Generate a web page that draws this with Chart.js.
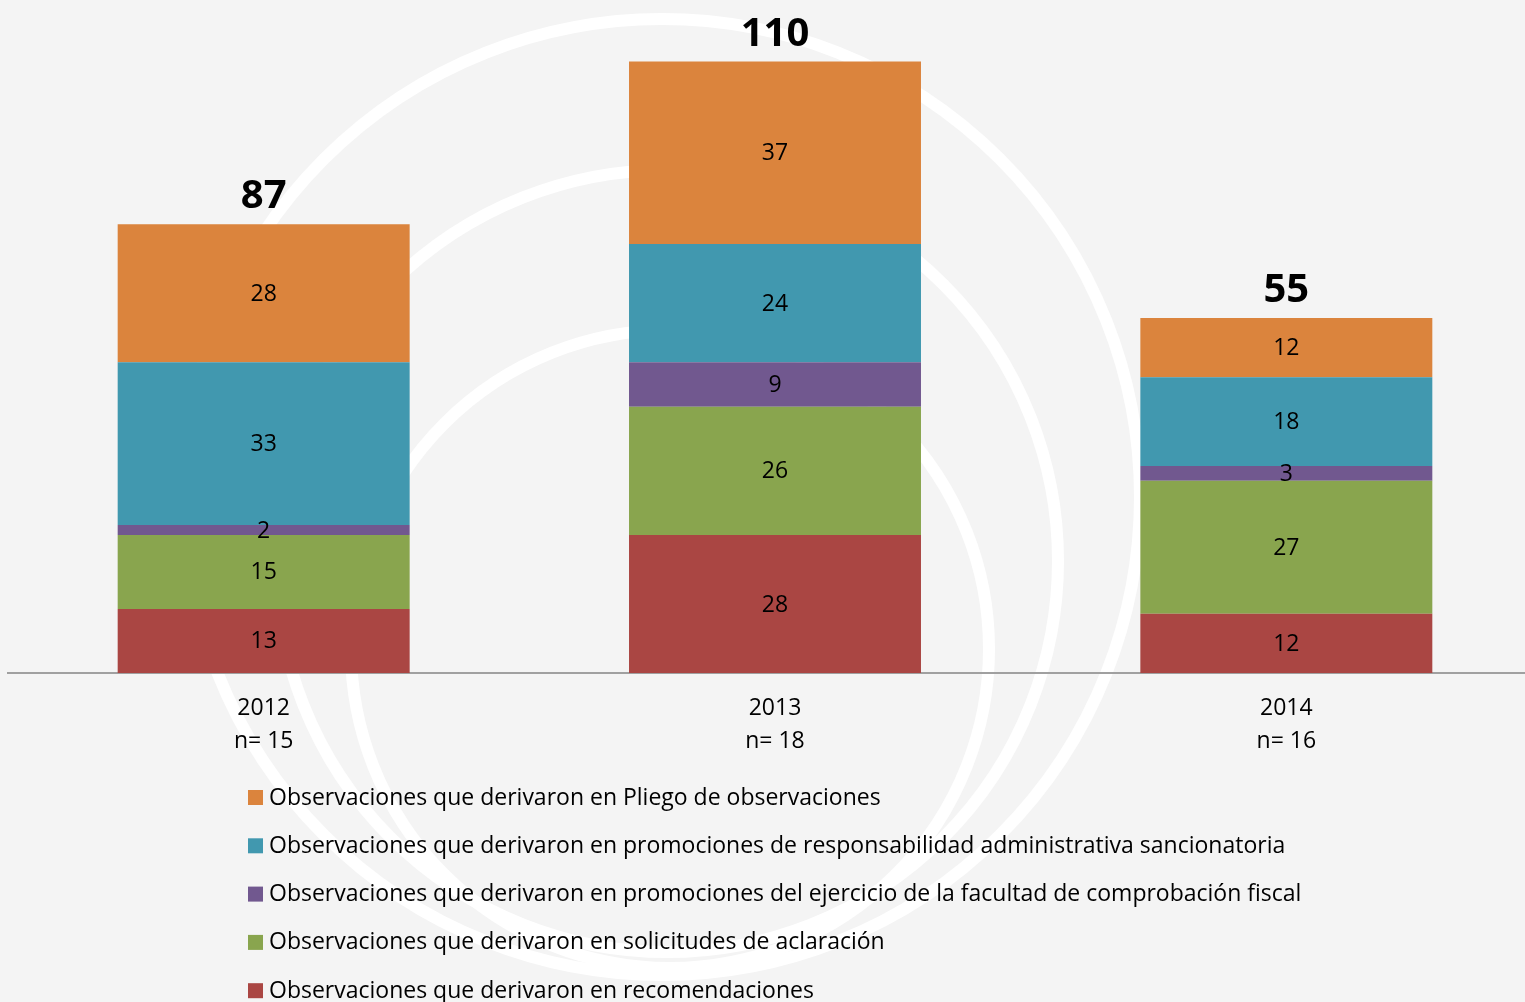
<!DOCTYPE html>
<html lang="es">
<head>
    <meta charset="UTF-8">
    <title>Observaciones por año</title>
    <script src="https://cdn.jsdelivr.net/npm/chart.js"></script>
    <style>
        body {
            margin: 0;
            padding: 0;
            background-color: #f4f4f4;
            overflow: hidden;
        }

        .chart-container {
            position: absolute;
            left: 0;
            top: 0;
            width: 1542px;
            height: 1002px;
        }
    </style>
</head>
<body>

    <div class="chart-container">
        <canvas id="obsChart"></canvas>
    </div>

    <script>
        // Datos
        const years = ['2012', '2013', '2014'];
        const nValues = [15, 18, 16];
        const totals = [87, 110, 55];

        const recomendaciones = [13, 28, 12];
        const solicitudes = [15, 26, 27];
        const comprobacionFiscal = [2, 9, 3];
        const responsabilidad = [33, 24, 18];
        const pliego = [28, 37, 12];

        const FONT = '"Open Sans", "Noto Sans", sans-serif';

        // fondo gris con los círculos blancos de marca de agua
        const backgroundPlugin = {
            id: 'background',
            beforeDraw(chart) {
                const ctx = chart.ctx;
                ctx.save();
                ctx.fillStyle = '#f4f4f4';
                ctx.fillRect(0, 0, chart.width, chart.height);
                ctx.strokeStyle = '#ffffff';
                ctx.lineWidth = 12;
                [[662, 497, 478], [667, 561, 391], [670, 649, 319]].forEach(([cx, cy, r]) => {
                    ctx.beginPath();
                    ctx.arc(cx, cy, r, 0, Math.PI * 2);
                    ctx.stroke();
                });
                ctx.restore();
            }
        };

        // etiquetas dentro de cada segmento y total arriba de cada barra
        const labelsPlugin = {
            id: 'segmentLabels',
            afterDatasetsDraw(chart) {
                const ctx = chart.ctx;
                ctx.save();
                ctx.fillStyle = '#000';
                ctx.textAlign = 'center';
                ctx.textBaseline = 'middle';
                ctx.font = '23px ' + FONT;
                chart.data.datasets.forEach((ds, i) => {
                    chart.getDatasetMeta(i).data.forEach((bar, j) => {
                        const y = (bar.y + bar.base) / 2 + 1;
                        ctx.fillText(ds.data[j], bar.x, y);
                    });
                });

                const lastMeta = chart.getDatasetMeta(chart.data.datasets.length - 1);
                ctx.font = 'bold 40px ' + FONT;
                ctx.textBaseline = 'alphabetic';
                lastMeta.data.forEach((bar, j) => {
                    ctx.fillText(totals[j], bar.x, bar.y - 16);
                });
                ctx.restore();
            }
        };

        // leyenda vertical debajo del eje
        const legendPlugin = {
            id: 'verticalLegend',
            afterDraw(chart) {
                const ctx = chart.ctx;
                const items = chart.data.datasets.slice().reverse();
                ctx.save();
                ctx.font = '23px ' + FONT;
                ctx.textBaseline = 'middle';
                ctx.textAlign = 'left';
                items.forEach((ds, i) => {
                    const y = 797 + i * 48.3;
                    ctx.fillStyle = ds.backgroundColor;
                    ctx.fillRect(248, y - 7, 15, 15);
                    ctx.fillStyle = '#000';
                    ctx.fillText(ds.label, 269, y + 1);
                });
                ctx.restore();
            }
        };

        const ctx = document.getElementById('obsChart').getContext('2d');
        new Chart(ctx, {
            type: 'bar',
            data: {
                labels: years.map((y, i) => [y, 'n= ' + nValues[i]]),
                datasets: [
                    { label: 'Observaciones que derivaron en recomendaciones', data: recomendaciones, backgroundColor: '#aa4643' },
                    { label: 'Observaciones que derivaron en solicitudes de aclaración', data: solicitudes, backgroundColor: '#89a54e' },
                    { label: 'Observaciones que derivaron en promociones del ejercicio de la facultad de comprobación fiscal', data: comprobacionFiscal, backgroundColor: '#71588f' },
                    { label: 'Observaciones que derivaron en promociones de responsabilidad administrativa sancionatoria', data: responsabilidad, backgroundColor: '#4198af' },
                    { label: 'Observaciones que derivaron en Pliego de observaciones', data: pliego, backgroundColor: '#db843d' }
                ]
            },
            options: {
                responsive: true,
                maintainAspectRatio: false,
                animation: false,
                layout: {
                    padding: { left: 8, top: 32, right: 0, bottom: 0 }
                },
                datasets: {
                    bar: {
                        barPercentage: 0.571,
                        categoryPercentage: 1
                    }
                },
                scales: {
                    x: {
                        stacked: true,
                        grid: { display: false, drawTicks: false },
                        border: { display: true, color: '#a0a0a0', width: 2 },
                        ticks: {
                            color: '#000',
                            padding: 19,
                            font: { family: FONT, size: 23, lineHeight: 1.435 }
                        },
                        afterFit(scale) {
                            scale.height = 329;
                        }
                    },
                    y: {
                        stacked: true,
                        display: false,
                        min: 0,
                        max: 130
                    }
                },
                plugins: {
                    legend: { display: false },
                    tooltip: { enabled: false }
                }
            },
            plugins: [backgroundPlugin, labelsPlugin, legendPlugin]
        });
    </script>

</body>
</html>
